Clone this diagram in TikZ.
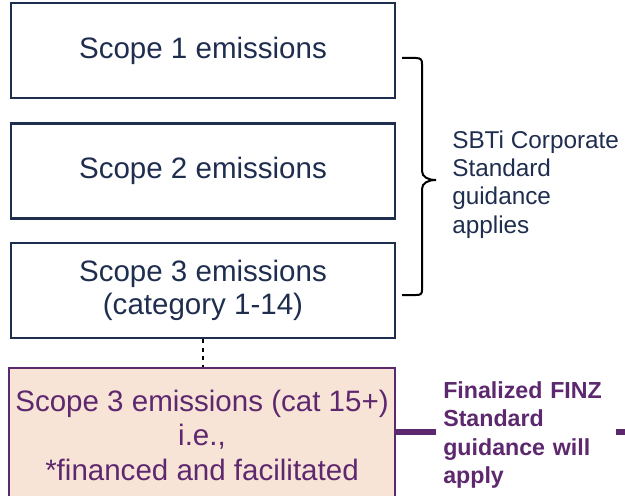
\documentclass[tikz,border=0pt]{standalone}
\usepackage{fontspec}
\setmainfont{Liberation Sans}
\usetikzlibrary{positioning}
\definecolor{scopenavy}{RGB}{31,46,79}
\definecolor{finzpurple}{RGB}{93,40,110}
\definecolor{finzpeach}{RGB}{248,228,214}
\tikzset{
	scopebox/.style={draw=scopenavy, line width=0.6mm, text=scopenavy, minimum width=9.6cm, minimum height=2.375cm, align=center, font=\fontsize{21}{23}\selectfont},
	finzbox/.style={draw=finzpurple, fill=finzpeach, line width=0.5mm, text=finzpurple, minimum width=9.65cm, minimum height=3.35cm, align=center, font=\fontsize{21}{24.5}\selectfont},
	finzlabel/.style={fill=white, text=finzpurple, anchor=west, inner sep=0.175cm, minimum width=4.5cm, text width=4.15cm, align=left, font=\bfseries\fontsize{16.5}{20}\selectfont},
	sbtilabel/.style={anchor=west, inner sep=0pt, text=scopenavy, align=left, font=\fontsize{17.3}{20}\selectfont}
}

\begin{document}
\begin{tikzpicture}
	%%%%% START %%%%%
	\useasboundingbox (0, 0) rectangle (15.625, 12.375);
	
	\node[scopebox] (scopeone) at (5.075, 11.1125) {Scope 1 emissions};
	\node[scopebox] (scopetwo) at (5.075, 8.1) {Scope 2 emissions};
	\node[scopebox] (scopethree) at (5.075, 5.1125) {Scope 3 emissions\\(category 1-14)};
	
	\node[finzbox] (scopefin) at (5.05, 1.5) {Scope 3 emissions (cat 15+)\\i.e.,\\*financed and facilitated};
	\draw[dashed, line width=0.3mm] (scopethree.south) -- (scopethree.south |- scopefin.north);
	
	\coordinate (lineend) at (15.8, 1.575);
	\draw[line width=1.5mm, color=finzpurple] (scopefin.east |- lineend) -- (lineend);
	\node[finzlabel] (finz) at (10.9, 1.5) {Finalized FINZ\\Standard\\guidance will\\apply};
	
	\draw[line width=0.5mm] (10.05, 10.925) -- (10.40, 10.925) .. controls (10.52, 10.925) and (10.55, 10.88) .. (10.55, 10.78) -- (10.55, 8.1) .. controls (10.55, 7.95) and (10.7, 7.875) .. (10.9, 7.875) .. controls (10.7, 7.875) and (10.55, 7.8) .. (10.55, 7.65) -- (10.55, 5.12) .. controls (10.55, 5.03) and (10.52, 5.0) .. (10.40, 5.0) -- (10.05, 5.0);
	\node[sbtilabel] (sbti) at (11.3, 7.76) {SBTi Corporate\\Standard\\guidance\\applies};
	
	%%%%% END %%%%%
\end{tikzpicture}
\end{document}
